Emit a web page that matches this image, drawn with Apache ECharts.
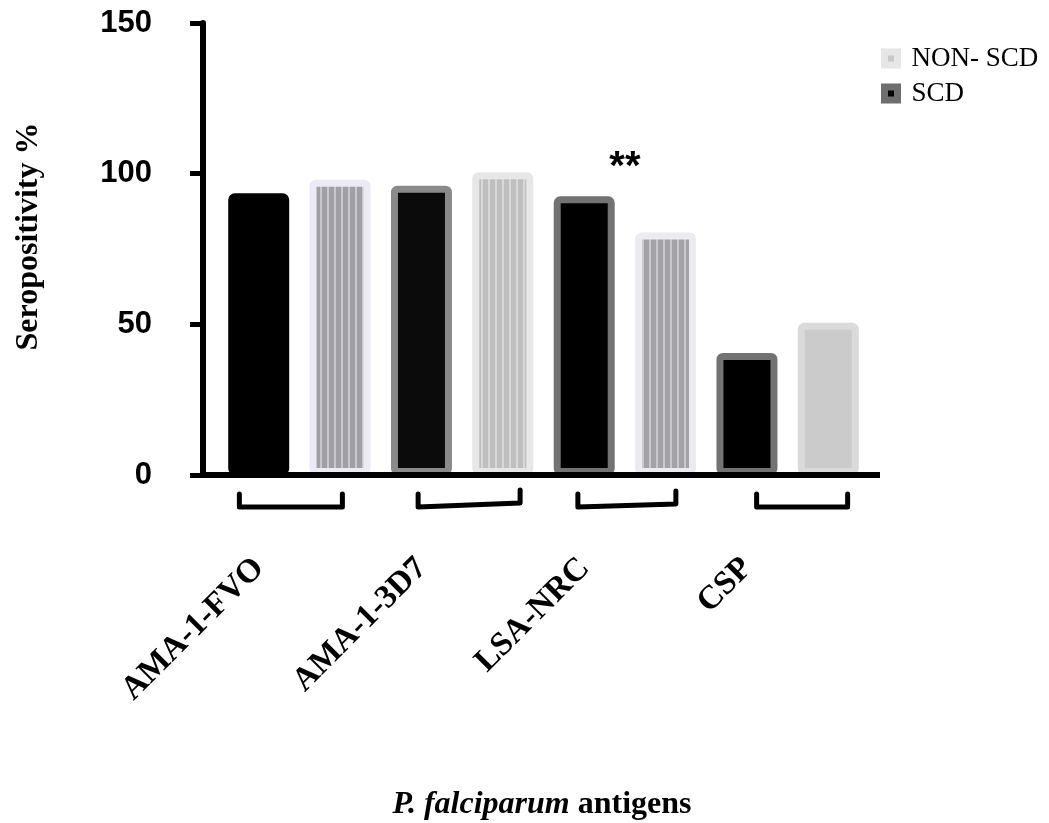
<!DOCTYPE html>
<html>
<head>
<meta charset="utf-8">
<script src="https://cdn.jsdelivr.net/npm/echarts@6/dist/echarts.min.js"></script>
<style>
html,body{margin:0;padding:0;background:#fff;}
#chart{width:1049px;height:823px;}
</style>
</head>
<body>
<div id="chart"></div>
<script>
// ---- data ----
const categories = ['AMA-1-FVO', 'AMA-1-3D7', 'LSA-NRC', 'CSP'];
const scdValues = [93.5, 96, 92.5, 40.5];
const nonScdValues = [98, 100.5, 80.5, 50.5];
const yTickValues = [0, 50, 100, 150];
const seriesNames = ['SCD', 'NON- SCD'];
const significanceCategories = ['LSA-NRC'];
const significanceLevels = [102];
const significanceTexts = ['**'];

// ---- styles ----
function stripes(base, line) {
  const c = document.createElement('canvas');
  c.width = 7; c.height = 4;
  const g = c.getContext('2d');
  g.fillStyle = base; g.fillRect(0, 0, 7, 4);
  g.fillStyle = line; g.fillRect(5, 0, 2, 4);
  return { image: c, repeat: 'repeat' };
}
const scdFill = ['#000000', '#0b0b0b', '#000000', '#000000'];
const scdBorder = ['#000000', '#8a8a8a', '#737373', '#737373'];
const nonFill = [stripes('#9f9fa5', '#c8c8cd'), stripes('#bfbfbf', '#d8d8d8'), stripes('#a2a2a7', '#c9c9cd'), '#cbcbcb'];
const nonBorder = ['#ecebf3', '#e7e7e7', '#ebebf0', '#dadada'];
const bracketSpans = [[-60, 43], [-44, 58], [-47, 51], [-31, 60]];
const bracketTilt = [0, -4, -3, 0];

const BW = 7;
const chart = echarts.init(document.getElementById('chart'), null, { renderer: 'canvas' });

const option = {
  backgroundColor: '#ffffff',
  animation: false,
  grid: { left: 218, right: 180, top: 23, bottom: 348 },
  legend: {
    orient: 'vertical',
    left: 876,
    top: 40,
    itemWidth: 13,
    itemHeight: 13,
    itemGap: 8,
    icon: 'rect',
    selectedMode: false,
    textStyle: { fontFamily: 'Liberation Serif', fontSize: 27, color: '#000', padding: [0, 0, 0, 9] },
    data: [
      { name: 'NON- SCD', itemStyle: { color: '#c8c8c8', borderColor: '#e6e6e6', borderWidth: 7 } },
      { name: 'SCD', itemStyle: { color: '#000000', borderColor: '#6e6e6e', borderWidth: 7 } }
    ]
  },
  xAxis: {
    type: 'category',
    data: categories,
    axisLine: { show: false },
    axisTick: { show: false },
    axisLabel: {
      rotate: 45,
      margin: 48,
      padding: [0, 57, 0, 0],
      fontFamily: 'Liberation Serif',
      fontWeight: 'bold',
      fontSize: 33,
      color: '#000'
    }
  },
  yAxis: {
    type: 'value',
    min: yTickValues[0],
    max: yTickValues[yTickValues.length - 1],
    interval: yTickValues[1] - yTickValues[0],
    offset: 15,
    splitLine: { show: false },
    axisLine: { show: true, lineStyle: { color: '#000', width: 6 } },
    axisTick: { show: true, length: 13, lineStyle: { color: '#000', width: 5 } },
    axisLabel: {
      margin: 51,
      fontFamily: 'Liberation Sans',
      fontWeight: 'bold',
      fontSize: 31,
      color: '#000'
    }
  },
  series: [
    {
      name: seriesNames[0],
      type: 'bar',
      barWidth: 61,
      barGap: '33.3%',
      itemStyle: { color: '#000', borderColor: '#6e6e6e', borderWidth: BW },
      data: scdValues.map((v, i) => ({
        value: v,
        itemStyle: { color: scdFill[i], borderColor: scdBorder[i], borderWidth: BW, borderRadius: 3 }
      }))
    },
    {
      name: seriesNames[1],
      type: 'bar',
      barWidth: 61,
      itemStyle: { color: '#c8c8c8', borderColor: '#e6e6e6', borderWidth: BW },
      data: nonScdValues.map((v, i) => ({
        value: v,
        itemStyle: { color: nonFill[i], borderColor: nonBorder[i], borderWidth: BW, borderRadius: 3 }
      }))
    },
    {
      name: 'significance',
      type: 'scatter',
      symbolSize: 1,
      itemStyle: { color: 'rgba(0,0,0,0)' },
      silent: true,
      label: {
        show: true,
        position: 'inside',
        formatter: (p) => significanceTexts[p.dataIndex],
        fontFamily: 'Liberation Sans',
        fontWeight: 'bold',
        fontSize: 40,
        color: '#000',
        textBorderWidth: 0,
        opacity: 1
      },
      data: significanceCategories.map((c, i) => [c, significanceLevels[i]])
    },
    {
      name: 'brackets',
      type: 'custom',
      silent: true,
      clip: false,
      data: categories.map((c, i) => [i, 0]),
      renderItem: function (params, api) {
        const idx = api.value(0);
        const p = api.coord([idx, 0]);
        const s = bracketSpans[idx];
        const t = bracketTilt[idx];
        const x1 = p[0] + s[0], x2 = p[0] + s[1];
        const yTop = p[1] + 19, yBot = p[1] + 32;
        return {
          type: 'polyline',
          shape: { points: [[x1, yTop], [x1, yBot], [x2, yBot + t], [x2, yTop + t]] },
          style: { stroke: '#000', lineWidth: 5, fill: null, lineCap: 'round', lineJoin: 'round' }
        };
      }
    }
  ]
};
chart.setOption(option);

const y0 = chart.convertToPixel({ yAxisIndex: 0 }, 0);
chart.setOption({
  graphic: [
    {
      type: 'line',
      shape: { x1: 200, y1: y0, x2: 880, y2: y0 },
      style: { stroke: '#000', lineWidth: 6 },
      z: 10
    },
    {
      type: 'text',
      x: 28.5,
      y: 236.5,
      rotation: Math.PI / 2,
      style: {
        text: 'Seropositivity %',
        font: 'bold 32px "Liberation Serif"',
        fill: '#000',
        align: 'center',
        verticalAlign: 'middle'
      }
    },
    {
      type: 'text',
      x: 542,
      y: 805,
      style: {
        text: '{i|P. falciparum}{b| antigens}',
        align: 'center',
        verticalAlign: 'middle',
        rich: {
          i: { fontFamily: 'Liberation Serif', fontWeight: 'bold', fontStyle: 'italic', fontSize: 32, fill: '#000' },
          b: { fontFamily: 'Liberation Serif', fontWeight: 'bold', fontSize: 32, fill: '#000' }
        }
      }
    }
  ]
});
</script>
</body>
</html>
